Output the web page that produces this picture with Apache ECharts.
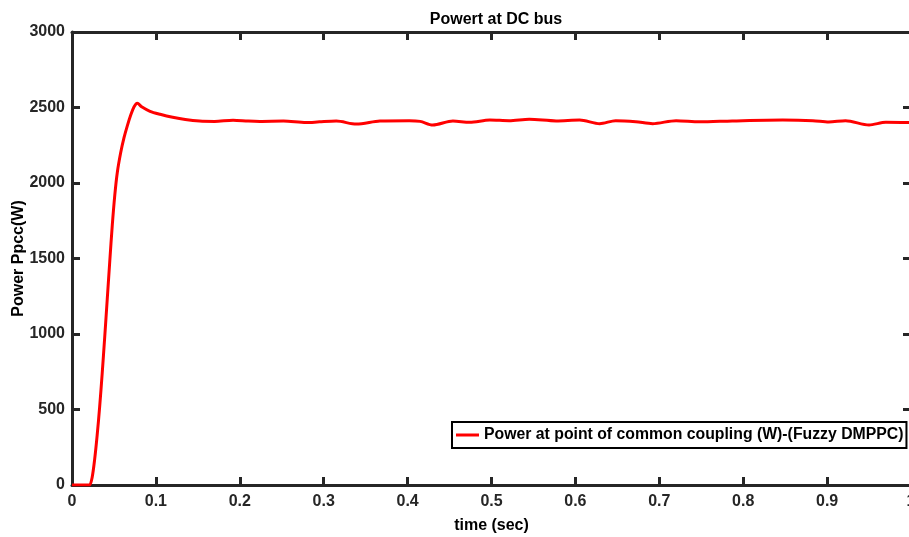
<!DOCTYPE html>
<html>
<head>
<meta charset="utf-8">
<script src="https://cdn.jsdelivr.net/npm/echarts@6/dist/echarts.min.js"></script>
<style>
  html, body { margin: 0; padding: 0; background: #fff; }
  #main { width: 909px; height: 537px; }
</style>
</head>
<body>
<div id="main"></div>
<script>
// time (sec) and power (W)
var timeSec = [0, 0.018, 0.021, 0.024, 0.027, 0.030, 0.033, 0.036, 0.039, 0.042,
  0.045, 0.048, 0.051, 0.054, 0.058, 0.062, 0.066, 0.070, 0.074, 0.0778,
  0.083, 0.093, 0.105, 0.120, 0.135, 0.152,
  0.170, 0.192, 0.210, 0.224, 0.252, 0.279, 0.295, 0.315, 0.339, 0.367,
  0.402, 0.415, 0.430, 0.454, 0.474, 0.498, 0.521, 0.545, 0.577, 0.605,
  0.629, 0.648, 0.672, 0.692, 0.720, 0.748, 0.787, 0.847, 0.883, 0.902,
  0.922, 0.950, 0.970, 1.0];
var powerW = [0, 0, 0, 50, 170, 330, 520, 740, 980, 1230,
  1480, 1720, 1920, 2070, 2200, 2300, 2380, 2450, 2505, 2528,
  2505, 2475, 2455, 2435, 2420, 2410,
  2408, 2416, 2410, 2408, 2410, 2400, 2405, 2410, 2390, 2410,
  2413, 2408, 2384, 2410, 2402, 2417, 2413, 2422, 2411, 2417,
  2393, 2413, 2406, 2393, 2413, 2405, 2411, 2417, 2413, 2404,
  2413, 2384, 2402, 2400];

var seriesName = 'Power at point of common coupling (W)-(Fuzzy DMPPC)';
var titleText = 'Powert at DC bus';
var xName = 'time (sec)';
var yName = 'Power Ppcc(W)';

var ink = '#262626';
var font = 'Liberation Sans, Arial, sans-serif';

var chart = echarts.init(document.getElementById('main'), null, { renderer: 'canvas' });

var pts = timeSec.map(function (t, i) { return [t, powerW[i]]; });

var boxAxisX = {
  type: 'value', min: 0, max: 1, interval: 0.1,
  axisLine: { show: true, onZero: false, lineStyle: { color: ink, width: 3 } },
  axisTick: { show: true, inside: true, length: 8, lineStyle: { color: ink, width: 3 } },
  splitLine: { show: false }
};
var boxAxisY = {
  type: 'value', min: 0, max: 3000, interval: 500,
  axisLine: { show: true, onZero: false, lineStyle: { color: ink, width: 3 } },
  axisTick: { show: true, inside: true, length: 8, lineStyle: { color: ink, width: 3 } },
  splitLine: { show: false }
};

var option = {
  backgroundColor: '#fff',
  animation: false,
  title: {
    text: titleText,
    left: 491, top: 7, textAlign: 'center',
    textStyle: { color: '#000', fontSize: 16, fontWeight: 'bold', fontFamily: font }
  },
  grid: { left: 72, top: 32, width: 839, height: 453, containLabel: false, outerBoundsMode: 'none' },
  legend: {
    data: [seriesName],
    left: 452, top: 422,
    padding: [5, 3, 5, 4],
    backgroundColor: '#fff',
    borderColor: '#000', borderWidth: 2,
    icon: 'rect', itemWidth: 23, itemHeight: 3,
    textStyle: { color: '#000', fontSize: 15.8, fontWeight: 'bold', fontFamily: font }
  },
  xAxis: [
    Object.assign({}, boxAxisX, {
      position: 'bottom',
      name: xName, nameLocation: 'middle', nameGap: 33, nameMoveOverlap: false,
      nameTextStyle: { color: '#000', fontSize: 16, fontWeight: 'bold', fontFamily: font },
      axisLabel: {
        show: true, color: ink, fontSize: 16, fontWeight: 'bold', fontFamily: font, margin: 9,
        formatter: function (v) { return String(Math.round(v * 10) / 10); }
      }
    }),
    Object.assign({}, boxAxisX, { position: 'top', axisLabel: { show: false } })
  ],
  yAxis: [
    Object.assign({}, boxAxisY, {
      position: 'left',
      name: yName, nameLocation: 'middle', nameGap: 45, nameMoveOverlap: false,
      nameTextStyle: { color: '#000', fontSize: 16, fontWeight: 'bold', fontFamily: font },
      axisLabel: {
        show: true, color: ink, fontSize: 16, fontWeight: 'bold', fontFamily: font, margin: 7,
        formatter: function (v) { return String(v); }
      }
    }),
    Object.assign({}, boxAxisY, { position: 'right', axisLabel: { show: false } })
  ],
  series: [{
    name: seriesName,
    type: 'line',
    xAxisIndex: 0, yAxisIndex: 0,
    data: pts,
    smooth: 0.3,
    showSymbol: false,
    lineStyle: { color: '#ff0000', width: 3 },
    itemStyle: { color: '#ff0000' },
    z: 1
  }]
};

chart.setOption(option);
</script>
</body>
</html>
